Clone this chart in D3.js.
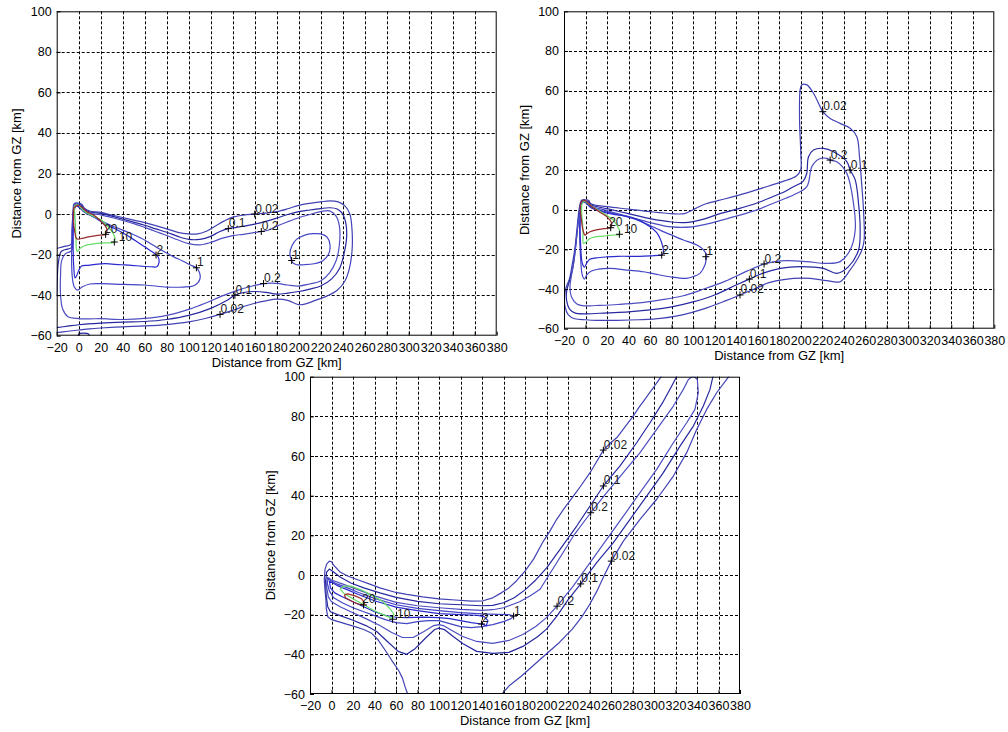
<!DOCTYPE html>
<html><head><meta charset="utf-8">
<script src="https://cdn.jsdelivr.net/npm/d3@7"></script>
<style>
body{margin:0;background:#fff}
svg{display:block}
text{font-family:"Liberation Sans",Arial,sans-serif}
</style>
</head><body>
<svg id="chart" width="1008" height="732"></svg>
<script>
// ---------- tick values ----------
const xTicks = [-20,0,20,40,60,80,100,120,140,160,180,200,220,240,260,280,300,320,340,360,380];
const yTicks = [-60,-40,-20,0,20,40,60,80,100];
const xLabel = "Distance from GZ [km]";
const yLabel = "Distance from GZ [km]";
const levels = ["0.02","0.1","0.2","1","2","10","20"];
const levelColors = ["#4242b4","#2828a0","#4e4ec2","#4444c6","#2a2ad0","#66dd66","#9a2c2c"];

// ---------- panel 1 contours (km) ----------
const p1_002 = [[-20,-58.5],[-10,-57.8],[0,-57.2],[10,-56.6],[20,-56.2],[40,-55.6],[60,-55.2],[80,-54.5],[100,-53.2],[115,-51.5],[128.5,-49.5],[140,-47.5],[150,-45.6],[160,-44],[170,-42.8],[180,-42],[190,-42.6],[200,-44.7],[207,-44.2],[215,-42.6],[225,-40.6],[235,-37.6],[242,-33],[246,-27],[248.5,-18],[248.5,-8],[246.5,0],[242,4],[236,6],[228,6.5],[220,6],[210,5.3],[200,4.3],[190,2.6],[180,1.2],[170,0.5],[160,0],[150,-0.5],[140,-1.5],[132,-3.5],[124,-6],[116,-8.5],[108,-9.8],[100,-9.8],[90,-9],[80,-7.3],[70,-5.7],[60,-4.2],[50,-3],[40,-1.7],[30,-0.5],[20,0.8],[10,1.5],[5,3],[2.5,5],[-4,5.2],[-5,3],[-6,-8],[-7,-15],[-12,-15.8],[-17,-16.5],[-20,-17]];
const p1_01 = [[-20,-56],[-10,-55.3],[0,-54.6],[20,-53.8],[40,-53.3],[60,-53],[80,-52],[100,-50],[120,-46.5],[135,-42.5],[142,-40],[150,-38.7],[160,-38.2],[170,-38.6],[180,-39.5],[190,-39],[200,-38.2],[210,-37],[220,-35.5],[230,-32],[237,-27],[241,-20],[243.5,-12],[243,-5],[240,0],[235,2.5],[228,3.1],[220,2.7],[210,2],[200,1.2],[190,-0.2],[180,-2],[170,-3.6],[160,-5],[150,-6],[142,-6.7],[136,-7.2],[128,-8.7],[120,-11],[110,-12.5],[100,-12.5],[90,-11],[80,-9],[70,-7.3],[60,-5.5],[50,-4],[40,-2.5],[30,-1],[20,0.3],[10,1],[5,2.5],[2,4.5],[-3,4.8],[-4.5,2.5],[-5.5,-8],[-6.5,-16.5],[-12,-17.5],[-16,-18.5],[-18.5,-24],[-19.5,-32],[-20,-40]];
const p1_02 = [[-4,2],[-5.5,-10],[-6.5,-18],[-12,-19.5],[-15.5,-23],[-16.5,-30],[-16.5,-40],[-14.5,-47],[-10,-50.5],[0,-51.6],[10,-51.7],[20,-51.6],[40,-52],[60,-51.5],[80,-50],[100,-47],[115,-44],[130,-40.5],[145,-37.5],[158,-35.5],[168,-34.3],[180,-34.2],[190,-35],[200,-35.5],[210,-34.5],[220,-33],[228,-29],[234,-23],[237,-15],[237,-6],[234,-1],[228,1.6],[220,1.2],[210,-0.2],[200,-1.8],[190,-3.8],[180,-6],[172,-8],[166,-8.6],[158,-9.3],[150,-10],[140,-10.6],[130,-12],[120,-14],[110,-15.2],[100,-14.6],[90,-12.7],[80,-10.6],[70,-8.6],[60,-6.6],[50,-4.7],[40,-3.2],[30,-1.7],[20,-0.4],[10,0.4],[5,1.8],[2,3.8],[-2,4.3],[-4,2]];
const p1_1a = [[-3,4.5],[0,3.5],[5,1.5],[10,-0.3],[18,-2.5],[25,-4.5],[33,-6.4],[41,-8.2],[48,-9.7],[56,-11.7],[63,-13.8],[71,-16.5],[78.5,-18.8],[86,-21],[94,-23],[101,-25],[107,-26.5],[109.5,-28.5],[110.5,-31],[109,-33.5],[104,-35.5],[95,-36],[80,-36],[60,-35],[40,-34.7],[20,-34.3],[10,-34.5],[3,-36],[-1,-37.5],[-4,-36],[-6,-30],[-6.3,-15],[-5.5,-3],[-4,3],[-3,4.5]];
const p1_1b = [[193.6,-22.9],[192,-19.5],[194,-15.5],[198,-12.5],[205,-10.5],[213,-9.7],[220,-9.8],[226,-11.5],[228.5,-15.5],[227,-20],[222,-23],[214,-24.5],[205,-25],[198,-25],[194.5,-24],[193.6,-22.9]];
const p1_2 = [[-3,4.5],[0,3.5],[5,1],[10,-0.5],[17,-2.5],[24,-5],[32,-7],[39,-9],[47,-11.5],[54,-14],[61,-16.5],[66,-18.3],[70.3,-20],[72.5,-21.5],[73,-24],[71,-26],[66,-26],[57,-25.7],[48,-25.3],[39,-25],[30,-24.7],[24,-24.5],[15,-24.8],[8.8,-25.3],[2.7,-25.6],[0,-27.8],[-1.8,-30.3],[-3.3,-31.5],[-4.5,-26],[-5,-18],[-5,-8],[-4,3],[-3,4.5]];
const p1_10 = [[-4,4],[-1,4.5],[4.2,1.8],[11.8,-0.7],[20.9,-3.1],[27,-6.4],[31.5,-9.7],[33,-12],[32.4,-13.8],[24,-14.2],[14.8,-14.6],[5.8,-15.5],[1,-17],[-1.5,-18.4],[-2.5,-12],[-3,-5],[-4,4]];
const p1_20 = [[-4.5,3],[-1,4.3],[2.7,3.5],[7.3,1.3],[14.8,-1],[22.4,-4.8],[25.5,-7.2],[24.5,-10],[17,-10.5],[8.8,-11.3],[3,-12],[-1.8,-12.2],[-3.5,-9],[-4.8,-3],[-4.5,3]];
const p1_edge = [[0,-61],[0,-59.2],[9,-59.2],[9.5,-61]];
const p1LabelText = ["20","10","2","1","0.1","0.02","0.2","1","0.2","0.1","0.02"];
const p1LabelX = [24.5,32.4,70.3,107,136,160,166,193.6,168,142,128.5];
const p1LabelY = [-10,-13.8,-20.2,-26.5,-7.2,0,-8.6,-22.9,-34.3,-40,-49.5];

// ---------- panel 2 contours ----------
const p2_002 = [[-3,5],[0,5],[3,4.6],[5,3],[20,1.5],[40,0.3],[60,-1],[80,-2],[92,-2],[100,0],[112,3],[130,5.5],[150,8.5],[162,10.5],[173.5,12.5],[185,14.5],[196,17],[200,20],[200.1,28.4],[199,45],[199.5,60.3],[201,62.9],[205.7,62.9],[211.9,58.7],[218.1,51.9],[220.6,49.4],[227.4,46],[236.7,43.5],[246,41],[252.2,36.8],[254.7,26.7],[256.9,11.6],[258.4,-0.2],[259,-15.3],[256.9,-20.3],[252.2,-25.4],[246,-30.4],[236.7,-36.3],[224.3,-35.8],[208.8,-34.6],[193.3,-34.6],[181,-35.5],[168.5,-37.1],[162.3,-38.8],[150,-41.5],[143.6,-43],[130,-46],[110,-50],[90,-53],[70,-54.8],[50,-55.5],[30,-55.8],[10,-55.8],[0,-55.5],[-10,-55],[-16,-53],[-19,-49],[-19.5,-44],[-18,-39],[-15,-35],[-12.5,-28],[-10,-20],[-8,-10],[-6,0],[-4.5,4],[-3,5]];
const p2_01 = [[-3,4.5],[3,4],[5,2.5],[20,0.5],[40,-2],[60,-4.5],[80,-6.2],[92,-6.5],[100,-6],[111.5,-4.5],[125,-2],[142.5,0.5],[160,3.5],[173.5,6.4],[185,9],[193.3,11.6],[202,14.1],[205.5,18],[207.3,26.7],[211.9,30.1],[221.2,30.9],[230.5,29.2],[242.9,24.2],[246,20],[250.7,15],[253.8,3.2],[255.3,-10.3],[253.8,-20.3],[244.5,-28.7],[233.6,-32.1],[221.2,-29.6],[199.5,-28.7],[181,-29.6],[165,-32],[152.3,-35],[140,-38],[120,-43],[100,-46.5],[80,-49],[60,-50.5],[40,-51.5],[20,-52],[0,-52.5],[-10,-52],[-15,-50],[-17.5,-46],[-17.5,-41],[-15,-36],[-12,-30],[-9.5,-20],[-7.5,-10],[-5.5,0],[-4,3.5],[-3,4.5]];
const p2_02 = [[-2.5,4],[3,3.5],[5,2],[20,-0.5],[40,-3.5],[60,-6.5],[80,-8.7],[99,-8.7],[111.5,-7.4],[125,-5.5],[142.5,-2.9],[160,0],[173.5,3],[185,5.5],[193.3,7.4],[205.7,11.6],[210.4,21.7],[216.6,25.4],[224.3,25.9],[227.4,25],[233.6,24.2],[242.9,18.3],[249.1,3.2],[250.7,-10.3],[246,-20.3],[236.7,-26.2],[224.3,-27.1],[205.7,-26.2],[187.1,-25.7],[175,-26.3],[166,-27.4],[150,-31],[130,-36],[110,-40],[90,-43.5],[70,-45.5],[50,-47],[30,-47.8],[10,-48.3],[0,-48.5],[-8,-47.5],[-13,-44],[-14.5,-39],[-13,-33],[-10.5,-25],[-8.5,-15],[-6.5,-5],[-4.5,2],[-2.5,4]];
const p2_1 = [[-3,4.5],[0,3.8],[5,1.5],[15,-0.5],[30,-2.5],[40,-3.5],[47.6,-4.9],[58,-7.5],[69.3,-10.3],[80,-12.8],[91,-15.3],[100,-17],[106.4,-18.7],[110,-20.5],[112.6,-22.9],[112,-25.5],[111,-27.9],[106.4,-32.1],[100,-33.8],[94,-34.6],[78.5,-33.8],[65,-32.5],[53.8,-31.3],[40,-30.5],[22.8,-29.6],[12,-30],[5,-31],[1,-33],[-1,-35],[-3,-33],[-4.5,-25],[-5.5,-10],[-4.5,2],[-3,4.5]];
const p2_2 = [[-3,4],[0,3.5],[5,1],[15,-1],[25,-2.2],[38.3,-3.5],[50,-5.5],[60,-8.6],[66,-11.5],[69.3,-14.5],[71.5,-18],[72.4,-21.2],[71,-23],[68,-23],[60,-23.3],[50,-23.5],[40,-23.5],[30,-23.5],[20,-23.8],[10,-24.3],[4,-25],[1,-27],[-1,-29],[-3,-27],[-4.5,-18],[-5,-8],[-4,2],[-3,4]];
const p2_10 = [[-3.5,3],[-1,4.2],[4.2,2.4],[10,0.3],[16.6,-1.8],[22,-3.7],[25.9,-5.2],[29,-7.8],[31.5,-10.3],[31.5,-12.4],[25,-12.8],[16.6,-13.3],[8,-13.8],[4.2,-14.5],[0,-16.5],[-2,-17],[-2.3,-12],[-2.6,-8],[-3.6,-1.8],[-3.5,3]];
const p2_20 = [[-4,4],[-1.5,4.8],[2.6,3.2],[6,1.5],[10.4,-0.2],[15,-1.8],[19.7,-3.5],[24.3,-6.9],[23.4,-9.1],[19.7,-9.4],[10,-10.2],[4.2,-11.1],[1,-12.2],[-0.5,-12.8],[-2.5,-10],[-4,-4],[-5,1],[-4,4]];
const p2LabelText = ["20","10","2","1","0.02","0.2","0.1","0.2","0.1","0.02"];
const p2LabelX = [23.4,31.5,70.8,111.8,220.6,227.4,246,166,152.3,143.6];
const p2LabelY = [-9.1,-12.4,-22.9,-23.7,49.4,25,20,-27.4,-35,-43];

// ---------- panel 3 contours ----------
const p3_002a = [[308,101],[304,98],[300.5,95.3],[296,92],[291.5,88.6],[286,84.5],[280.8,80.2],[272,74],[265.3,69.2],[259,66.3],[252.9,63],[247,57.5],[240.5,51.6],[232,45],[225,39.8],[217,34],[209.5,28.1],[203,22],[197,17],[188,8],[180,2],[172,-3],[165,-6.5],[158,-9],[150,-11.5],[141,-13],[130,-13.2],[115,-12.6],[100,-12],[85,-11],[70,-9.8],[60,-8.8],[45,-6.5],[35,-4.5],[25,-2.5],[15,-0.5],[8,1.5],[2,5],[0,6.7],[-2,7],[-4.5,5.5],[-6,3],[-6.7,-2.5],[-6,-8],[-5.4,-11],[-4.8,-17],[-3.5,-21],[0,-22.5],[6.4,-23.5],[14,-24.8],[21.9,-26],[30,-27.5],[37.4,-29.4],[43,-32.5],[49.8,-37.8],[56,-43],[62.2,-47.9],[66,-52],[68.4,-56.3],[71.5,-61]];
const p3_002b = [[157,-61],[165,-56],[177,-50.8],[188,-45.5],[199,-40.2],[212,-34],[224,-27.3],[233,-21],[240,-15],[247,-8],[253,-1],[260.3,7],[271.5,17.1],[287,28.1],[302.5,38.2],[318,49.9],[330.4,61.7],[339.7,73.4],[349,83.5],[358.3,91.9],[367.6,98.7],[371,101]];
const p3_01 = [[322,101],[316.5,95.3],[308,86.9],[296.3,76.8],[283.9,66.7],[268.4,55],[252.9,44.9],[240.5,34.8],[228.1,24.7],[212.6,12.9],[200,3.5],[190,-2.5],[180,-7.5],[170,-11.5],[160,-14],[150,-15.3],[140,-15.5],[120,-15],[100,-14.5],[80,-13.3],[60,-11.3],[45,-9],[30,-6.5],[18,-4],[8,-1],[2,1.5],[-2,3],[-4.5,1.5],[-5.5,-3],[-5,-10],[-3.5,-16],[-1,-18.5],[8,-20.5],[20,-22.8],[32,-25.5],[42,-28.5],[52,-33.5],[62,-38.5],[70,-40],[78,-37],[88,-31.5],[96,-27.5],[100,-26.8],[105,-27.5],[112,-30.5],[122,-34.5],[135,-38.5],[150,-39.5],[165,-39],[178,-36],[192,-31],[200,-27.3],[210,-20.5],[220,-12.5],[231.8,-4.5],[246.7,6.2],[262.2,16.3],[277.7,28.1],[293.2,39.8],[308.7,51.6],[324.2,65],[336.6,75.1],[345.9,85.2],[352.1,93.6],[355.2,101]];
const p3_02 = [[-4,-1],[0,-2.5],[10,-4.5],[25,-7.5],[40,-10.5],[60,-13.8],[80,-15.5],[100,-16.5],[120,-17.3],[140,-17.8],[150,-17.5],[160,-16.5],[175,-13.5],[185,-10.5],[194,-7.2],[209.5,6.2],[225,19.7],[241.1,31.4],[256,41.5],[271.5,51.6],[287,61.7],[302.5,73.4],[318,85.2],[327.3,93.6],[332,98.6],[336.6,100.3],[340.3,98.6],[341.2,92],[338.1,83.5],[330.4,76.8],[318,66.7],[302.5,53.3],[287,41.5],[271.5,29.7],[256,18],[240.5,6.2],[225,-5.5],[209.8,-15.7],[200,-21.5],[190,-26],[178,-30],[165,-33],[150,-34.5],[135,-33.5],[122,-31],[112,-28],[104,-25.5],[100,-25],[95,-25.5],[86,-28.5],[76,-31.5],[66,-31.5],[56,-29],[45,-25.5],[32,-22],[20,-19],[8,-16],[0,-13.5],[-3,-11],[-4.5,-6],[-4,-1]];
const p3_1 = [[-3,-2],[5,-4.5],[15,-6.5],[25,-8.8],[40,-11.8],[60,-15],[80,-16.8],[100,-18],[120,-19],[140,-19.6],[155,-19.8],[165,-20],[169.4,-20.7],[167,-22],[160,-23.5],[150,-25],[140,-26],[130,-26.5],[120,-26],[110,-24.5],[100,-23],[90,-23],[80,-23.5],[70,-24.5],[60,-24],[50,-22.5],[40,-20.5],[30,-18.5],[20,-16.5],[10,-14],[2,-11.5],[-2,-8],[-4,-4],[-3,-2]];
const p3_2 = [[-2,-3],[5,-5.2],[15,-7.5],[25,-9.8],[40,-13],[60,-16.2],[80,-18],[100,-19.5],[120,-20],[135,-20.3],[142,-21],[145.5,-23],[144,-25.5],[139.5,-24.7],[130,-24],[120,-23],[110,-22],[100,-21.5],[85,-21.2],[70,-21.5],[60,-21.3],[50,-20.3],[40,-18.5],[30,-16],[20,-13.5],[10,-11],[3,-9],[-1,-6.5],[-2,-3]];
const p3_10 = [[8,-7],[12,-5.6],[18,-5.6],[28,-7.6],[40,-10.9],[48,-13.5],[54.4,-17],[58,-19.8],[57,-22],[50,-20.5],[40,-18],[30,-15],[20,-12],[12,-9.5],[8,-7]];
const p3_20 = [[12,-10],[15,-9.5],[22,-10.5],[28,-12],[31,-14],[29.8,-15.1],[24,-14.5],[18,-13],[13,-11.5],[12,-10]];
const p3LabelText = ["20","10","2","1","0.02","0.1","0.2","0.02","0.1","0.2"];
const p3LabelX = [29.8,56.8,139.5,169.4,252.9,252.9,241.1,260.3,231.8,209.8];
const p3LabelY = [-15.1,-22.3,-24.7,-20.7,63,44.9,31.4,7,-4.5,-15.7];

// ---------- layout ----------
const panels = [
  {left:56.7, top:11.3, width:440, height:324.4,
   contours:[["0.02",p1_002],["0.1",p1_01],["0.2",p1_02],["1",p1_1a],["1",p1_1b],["2",p1_2],["10",p1_10],["20",p1_20],["0.1",p1_edge]],
   labels:[p1LabelText,p1LabelX,p1LabelY], curve:true},
  {left:564, top:11.3, width:430.3, height:317.4,
   contours:[["0.02",p2_002],["0.1",p2_01],["0.2",p2_02],["1",p2_1],["2",p2_2],["10",p2_10],["20",p2_20]],
   labels:[p2LabelText,p2LabelX,p2LabelY], curve:true},
  {left:310, top:376.7, width:430, height:317.3,
   contours:[["0.02",p3_002a],["0.02",p3_002b],["0.1",p3_01],["0.2",p3_02],["1",p3_1],["2",p3_2],["10",p3_10],["20",p3_20]],
   labels:[p3LabelText,p3LabelX,p3LabelY], curve:false}
];

const svg = d3.select("#chart");
svg.append("rect").attr("width",1008).attr("height",732).attr("fill","#fff");
const colorOf = d3.scaleOrdinal().domain(levels).range(levelColors);

panels.forEach((P, i) => {
  const x = d3.scaleLinear().domain([-20,380]).range([P.left, P.left + P.width]);
  const y = d3.scaleLinear().domain([-60,100]).range([P.top + P.height, P.top]);
  const g = svg.append("g");
  g.append("rect").attr("x",P.left).attr("y",P.top).attr("width",P.width).attr("height",P.height).attr("fill","#fff");

  // grid
  g.append("g").selectAll("line").data(xTicks.slice(1,-1)).join("line")
    .attr("x1",d=>Math.round(x(d))+0.5).attr("x2",d=>Math.round(x(d))+0.5)
    .attr("y1",P.top).attr("y2",P.top+P.height)
    .attr("stroke","#000").attr("stroke-width",1).attr("stroke-dasharray","3,2");
  g.append("g").selectAll("line").data(yTicks.slice(1,-1)).join("line")
    .attr("y1",d=>Math.round(y(d))+0.5).attr("y2",d=>Math.round(y(d))+0.5)
    .attr("x1",P.left).attr("x2",P.left+P.width)
    .attr("stroke","#000").attr("stroke-width",1).attr("stroke-dasharray","3,2");

  // clip
  const cid = "clip"+i;
  svg.append("clipPath").attr("id",cid).append("rect")
    .attr("x",P.left).attr("y",P.top).attr("width",P.width).attr("height",P.height);
  const cg = g.append("g").attr("clip-path",`url(#${cid})`);
  const line = d3.line().x(d=>x(d[0])).y(d=>y(d[1]))
    .curve(P.curve ? d3.curveCatmullRom.alpha(0.5) : d3.curveLinear);
  P.contours.forEach(([lev, pts]) => {
    cg.append("path").attr("d", line(pts)).attr("fill","none")
      .attr("stroke", colorOf(lev)).attr("stroke-width",1.2).attr("stroke-linejoin","round");
  });

  // labels with + markers
  const [lt, lx, ly] = P.labels;
  lt.forEach((t, k) => {
    const px = x(lx[k]), py = y(ly[k]);
    cg.append("path").attr("d",`M${px-3.5},${py}h7M${px},${py-3.5}v7`)
      .attr("stroke","#000").attr("stroke-width",1).attr("fill","none");
    const dx = t === "10" ? 4.5 : (t === "20" ? -1.5 : 0.5);
    cg.append("text").attr("x",px+dx).attr("y",py-1.5).text(t)
      .attr("font-size","12px").attr("fill","#1a1a1a");
  });

  // axes
  const ax = d3.axisBottom(x).tickValues(xTicks).tickSize(-4).tickPadding(7).tickFormat(d3.format("d"));
  const ay = d3.axisLeft(y).tickValues(yTicks).tickSize(-4).tickPadding(5).tickFormat(d3.format("d"));
  const gx = g.append("g").attr("transform",`translate(0,${P.top+P.height})`).call(ax);
  const gy = g.append("g").attr("transform",`translate(${P.left},0)`).call(ay);
  [gx, gy].forEach(a => {
    a.select(".domain").remove();
    a.selectAll("line").attr("stroke","#000");
    a.selectAll("text").attr("font-family","'Liberation Sans',Arial,sans-serif")
      .attr("font-size","12.5px").attr("fill","#000");
  });

  // box
  g.append("rect").attr("x",P.left+0.5).attr("y",P.top+0.5)
    .attr("width",P.width-1).attr("height",P.height-1)
    .attr("fill","none").attr("stroke","#000").attr("stroke-width",1);

  // axis titles
  g.append("text").attr("x",P.left+P.width/2).attr("y",P.top+P.height+31)
    .attr("text-anchor","middle").attr("font-size","13px").attr("fill","#000").text(xLabel);
  g.append("text").attr("transform",`translate(${P.left-40},${P.top+P.height/2}) rotate(-90)`)
    .attr("text-anchor","middle").attr("dy","0.35em").attr("font-size","13px").attr("fill","#000").text(yLabel);
});
</script>
</body></html>
